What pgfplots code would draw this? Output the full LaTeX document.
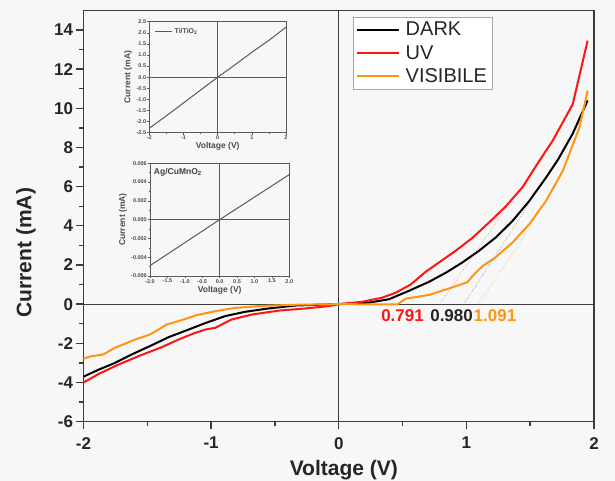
\documentclass[border=0pt]{standalone}
\usepackage{fontspec}
\setmainfont{Liberation Sans}
\usepackage{pgfplots}
\pgfplotsset{compat=1.18}
\definecolor{myred}{HTML}{FF1414}
\definecolor{myorange}{HTML}{FF9512}
\definecolor{axgray}{HTML}{3C3C3C}
\definecolor{insetgray}{HTML}{5A5A5A}
\begin{document}
\begin{tikzpicture}
\path[use as bounding box, fill=black!3] (-83.5pt,-59.3pt) rectangle (531.5pt,421.7pt);
\begin{axis}[
  at={(0pt,0pt)}, anchor=south west,
  scale only axis, width=510.5pt, height=411.4pt,
  xmin=-2, xmax=2, ymin=-6, ymax=15,
  xtick={-2,-1,0,1,2}, ytick={-6,-4,...,14},
  minor x tick num=1, minor y tick num=1,
  tick align=outside, xtick pos=bottom, ytick pos=left,
  major tick length=7pt, minor tick length=4pt,
  axis line style={axgray, line width=1.4pt},
  every tick/.style={axgray, line width=1.4pt},
  /pgf/number format/assume math mode=true,
  ticklabel style={font=\bfseries\fontsize{17}{17}\selectfont, text=black!85},
  xticklabel style={yshift=-5pt},
  xlabel={Voltage (V)}, ylabel={Current (mA)},
  label style={font=\bfseries\fontsize{21}{21}\selectfont, text=black!85},
  xlabel style={at={(axis description cs:0.51,-0.1167)}, anchor=center},
  ylabel style={at={(axis description cs:-0.1126,0.411)}, anchor=center},
  legend style={at={(0.527,0.984)}, anchor=north west, draw=gray!70, fill=white,
    font=\fontsize{20}{20}\selectfont, text=black!85, inner sep=3pt, row sep=4pt,
    cells={anchor=west}},
  legend image code/.code={\draw[#1] (0pt,0pt) -- (42pt,0pt); \path (46pt,0pt);},
]
\draw[axgray, line width=1.3pt] (axis cs:0,-6) -- (axis cs:0,15);
\draw[axgray, line width=1.3pt] (axis cs:-2,0) -- (axis cs:2,0);

\addplot[black, line width=2pt] coordinates {
(-2.0,-3.7) (-1.88,-3.34) (-1.754,-3.0) (-1.623,-2.57) (-1.466,-2.1) (-1.335,-1.69)
(-1.178,-1.3) (-1.047,-0.97) (-0.89,-0.61) (-0.733,-0.39) (-0.55,-0.22) (-0.34,-0.07)
(-0.16,-0.03) (0,0) (0.236,0.08) (0.393,0.25) (0.55,0.68) (0.707,1.14) (0.838,1.6)
(0.969,2.13) (1.1,2.73) (1.231,3.41) (1.362,4.25) (1.493,5.27) (1.624,6.46)
(1.72,7.4) (1.833,8.7) (1.95,10.4)};
\addlegendentry{DARK}
\addplot[myred, line width=2pt] coordinates {
(-2.0,-4.0) (-1.88,-3.56) (-1.728,-3.09) (-1.571,-2.66) (-1.388,-2.2) (-1.257,-1.81)
(-1.126,-1.47) (-1.047,-1.3) (-0.969,-1.21) (-0.838,-0.78) (-0.681,-0.53) (-0.471,-0.33)
(-0.262,-0.22) (-0.079,-0.1) (0,0) (0.183,0.12) (0.34,0.33) (0.445,0.58) (0.563,1.0)
(0.681,1.65) (0.786,2.13) (0.917,2.73) (1.047,3.38) (1.178,4.17) (1.31,5.0) (1.44,5.97)
(1.56,7.2) (1.676,8.34) (1.833,10.2) (1.95,13.45)};
\addlegendentry{UV}
\addplot[myorange, line width=2pt] coordinates {
(-2.0,-2.78) (-1.94,-2.66) (-1.846,-2.57) (-1.754,-2.23) (-1.597,-1.81) (-1.479,-1.55)
(-1.414,-1.3) (-1.348,-1.04) (-1.257,-0.87) (-1.113,-0.56) (-0.969,-0.36) (-0.812,-0.19)
(-0.603,-0.09) (-0.34,-0.03) (0,0) (0.3,-0.01) (0.46,-0.01) (0.524,0.28) (0.707,0.47)
(0.864,0.8) (1.008,1.12) (1.047,1.43) (1.126,1.94) (1.231,2.4) (1.362,3.15) (1.493,4.08)
(1.624,5.27) (1.755,6.8) (1.885,9.0) (1.95,10.9)};
\addlegendentry{VISIBILE}

\addplot[myred!70, line width=0.6pt, dotted, forget plot] coordinates {(0.791,0) (1.33,5.1)};
\addplot[black!60, line width=0.6pt, dotted, forget plot] coordinates {(0.980,0) (1.50,5.2)};
\addplot[myorange!80, line width=0.6pt, dotted, forget plot] coordinates {(1.091,0) (1.50,3.9)};

\node[font=\bfseries\fontsize{17}{17}\selectfont, text=myred] at (axis cs:0.50,-0.58) {0.791};
\node[font=\bfseries\fontsize{17}{17}\selectfont, text=black!85] at (axis cs:0.884,-0.58) {0.980};
\node[font=\bfseries\fontsize{17}{17}\selectfont, text=myorange] at (axis cs:1.224,-0.58) {1.091};
\end{axis}

% Inset 1
\begin{axis}[
  at={(65.8pt,289pt)}, anchor=south west,
  scale only axis, width=136.7pt, height=111pt,
  xmin=-2, xmax=2, ymin=-2.5, ymax=2.5,
  xtick={-2,-1,0,1,2}, ytick={-2.5,-2,...,2.5},
  minor x tick num=1,
  yticklabel style={/pgf/number format/.cd, fixed, fixed zerofill, precision=1},
  tick align=outside, xtick pos=bottom, ytick pos=left,
  major tick length=2pt, minor tick length=1pt,
  axis line style={insetgray, line width=0.6pt},
  every tick/.style={insetgray, line width=0.5pt},
  /pgf/number format/assume math mode=true,
  ticklabel style={font=\bfseries\fontsize{5.5}{5.5}\selectfont, text=black!70, inner sep=1pt},
  xlabel={Voltage (V)}, ylabel={Current (mA)},
  label style={font=\bfseries\fontsize{8.5}{8.5}\selectfont, text=black!70},
  xlabel style={at={(axis description cs:0.5,-0.125)}, anchor=center},
  ylabel style={at={(axis description cs:-0.155,0.5)}, anchor=center},
  legend style={at={(0.03,0.97)}, anchor=north west, draw=none, fill=none,
    font=\bfseries\fontsize{7}{7}\selectfont, text=black!70, inner sep=1pt},
  legend image code/.code={\draw[#1] (0pt,0pt) -- (17pt,0pt);},
]
\draw[insetgray, line width=0.5pt] (axis cs:0,-2.5) -- (axis cs:0,2.5);
\draw[insetgray, line width=0.5pt] (axis cs:-2,0) -- (axis cs:2,0);
\addplot[insetgray, line width=1pt] coordinates {
(-2,-2.3) (-1.5,-1.74) (-1,-1.16) (-0.5,-0.58) (0,0) (0.5,0.55) (1,1.12) (1.5,1.66) (2,2.25)};
\addlegendentry{Ti/TiO\textsubscript{2}}
\end{axis}

% Inset 2
\begin{axis}[
  at={(66.5pt,145.7pt)}, anchor=south west,
  scale only axis, width=139.3pt, height=112.7pt,
  xmin=-2, xmax=2, ymin=-0.006, ymax=0.006,
  xtick={-2,-1.5,...,2}, ytick={-0.006,-0.004,...,0.006},
  minor y tick num=1,
  xticklabel style={/pgf/number format/.cd, fixed, fixed zerofill, precision=1},
  yticklabel style={/pgf/number format/.cd, fixed, fixed zerofill, precision=3},
  scaled y ticks=false,
  tick align=outside, xtick pos=bottom, ytick pos=left,
  major tick length=2pt, minor tick length=1pt,
  axis line style={insetgray, line width=0.6pt},
  every tick/.style={insetgray, line width=0.5pt},
  /pgf/number format/assume math mode=true,
  ticklabel style={font=\bfseries\fontsize{5.5}{5.5}\selectfont, text=black!70, inner sep=1pt},
  xlabel={Voltage (V)}, ylabel={Current (mA)},
  label style={font=\bfseries\fontsize{8.5}{8.5}\selectfont, text=black!70},
  xlabel style={at={(axis description cs:0.5,-0.125)}, anchor=center},
  ylabel style={at={(axis description cs:-0.195,0.5)}, anchor=center},
]
\draw[insetgray, line width=0.5pt] (axis cs:0,-0.006) -- (axis cs:0,0.006);
\draw[insetgray, line width=0.5pt] (axis cs:-2,0) -- (axis cs:2,0);
\addplot[insetgray, line width=1pt] coordinates {
(-2,-0.0049) (-1,-0.00245) (0,0) (1,0.0024) (2,0.0048)};
\node[anchor=north west, font=\bfseries\fontsize{8.5}{8.5}\selectfont, text=black!75, inner sep=1pt]
  at (rel axis cs:0.02,0.97) {Ag/CuMnO\textsubscript{2}};
\end{axis}
\end{tikzpicture}
\end{document}
